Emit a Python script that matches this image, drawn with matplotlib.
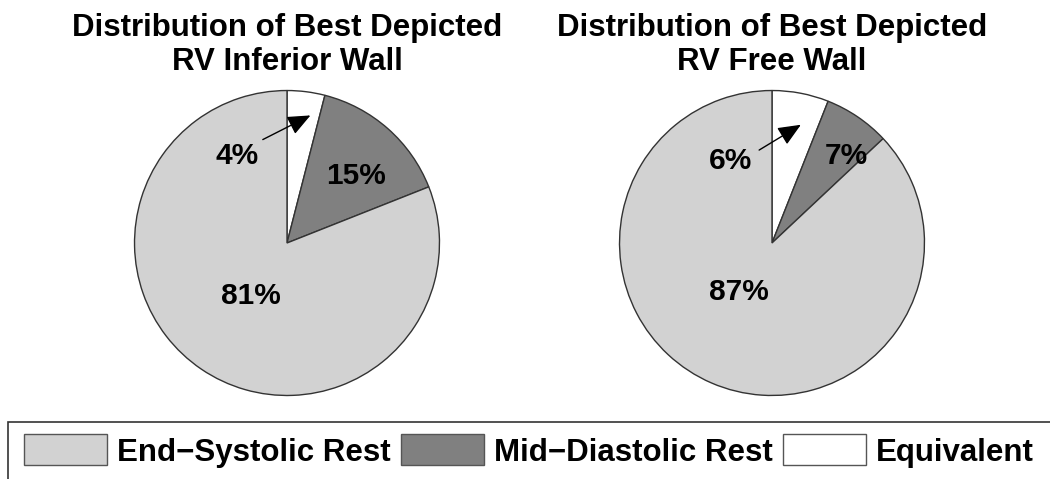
import matplotlib.pyplot as plt
from matplotlib.patches import Patch, Rectangle

plt.rcParams['font.family'] = ['Liberation Sans', 'DejaVu Sans']
plt.rcParams['font.weight'] = 'bold'

# 数据
categories = ['End\u2212Systolic Rest', 'Mid\u2212Diastolic Rest', 'Equivalent']
colors = ['#d2d2d2', '#808080', '#ffffff']
titles = ['Distribution of Best Depicted\nRV Inferior Wall',
          'Distribution of Best Depicted\nRV Free Wall']
# 顺序：Equivalent, Mid-Diastolic, End-Systolic（从12点钟方向顺时针）
inferior_wall = [4, 15, 81]
free_wall = [6, 7, 87]

fig = plt.figure(figsize=(10.5, 4.79), dpi=100)

# 每个饼图的位置和标注位置
axes_pos = [[0.12667, 0.17119, 0.29333, 0.64301], [0.58857, 0.17119, 0.29333, 0.64301]]
label_pos = [
    {'big': (-0.24, -0.35), 'mid': (0.455, 0.44), 'small': (-0.325, 0.57),
     'tail': (-0.175, 0.67), 'head': (0.17, 0.845)},
    {'big': (-0.22, -0.32), 'mid': (0.49, 0.57), 'small': (-0.27, 0.54),
     'tail': (-0.10, 0.60), 'head': (0.205, 0.785)},
]

for i, vals in enumerate([inferior_wall, free_wall]):
    ax = fig.add_axes(axes_pos[i])
    ax.pie(vals, colors=[colors[2], colors[1], colors[0]], startangle=90,
           counterclock=False, radius=1,
           wedgeprops=dict(edgecolor='#333333', linewidth=1))
    ax.set_xlim(-1.01, 1.01)
    ax.set_ylim(-1.01, 1.01)
    ax.set_aspect('auto')
    ax.axis('off')
    p = label_pos[i]
    ax.text(*p['big'], '%d%%' % vals[2], ha='center', va='center', fontsize=21.5, fontweight='bold')
    ax.text(*p['mid'], '%d%%' % vals[1], ha='center', va='center', fontsize=21.5, fontweight='bold')
    ax.text(*p['small'], '%d%%' % vals[0], ha='center', va='center', fontsize=21.5, fontweight='bold')
    ax.annotate('', xy=p['head'], xytext=p['tail'],
                arrowprops=dict(arrowstyle='-|>,head_length=1.4,head_width=0.6',
                                color='black', lw=1))
    cx = axes_pos[i][0] + axes_pos[i][2] / 2
    fig.text(cx, 0.972, titles[i], ha='center', va='top', fontsize=22.5,
             fontweight='bold', linespacing=1.15)

# 图例外框
fig.patches.append(Rectangle((8 / 1050, -0.05), 1.1, (479 - 422) / 479 + 0.05,
                             transform=fig.transFigure, fill=False,
                             edgecolor='#333333', linewidth=1.2))

handles = [Patch(facecolor=c, edgecolor='#555555', linewidth=1) for c in colors]
fig.legend(handles, categories, loc='center left', bbox_to_anchor=(24 / 1050, 0.0585),
           ncol=3, frameon=False, handlelength=2.66, handleheight=1.15,
           handletextpad=0.32, columnspacing=0.32, borderaxespad=0, borderpad=0,
           prop={'weight': 'bold', 'size': 22.5})

fig.savefig('out.png', dpi=100)
